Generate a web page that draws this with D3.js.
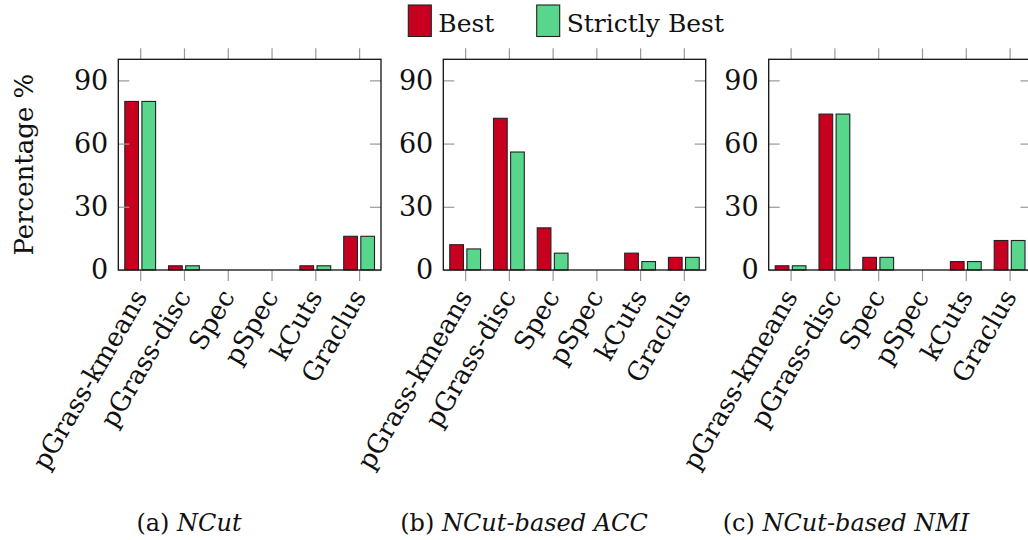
<!DOCTYPE html>
<html>
<head>
<meta charset="utf-8">
<script src="https://cdn.jsdelivr.net/npm/d3@7"></script>
<style>
  html, body { margin: 0; padding: 0; background: #fff; }
  svg { display: block; }
  text { font-family: "DejaVu Serif", serif; fill: #111; }
</style>
</head>
<body>
<svg id="chart" width="1028" height="540"></svg>
<script>
// ---- data ----
const categories = ["pGrass-kmeans", "pGrass-disc", "Spec", "pSpec", "kCuts", "Graclus"];
const seriesNames = ["Best", "Strictly Best"];
const panelTitles = ["NCut", "NCut-based ACC", "NCut-based NMI"];
const panelLetters = ["(a)", "(b)", "(c)"];
const ncutBest = [80, 2, 0, 0, 2, 16];
const ncutStrict = [80, 2, 0, 0, 2, 16];
const accBest = [12, 72, 20, 0, 8, 6];
const accStrict = [10, 56, 8, 0, 4, 6];
const nmiBest = [2, 74, 6, 0, 4, 14];
const nmiStrict = [2, 74, 6, 0, 4, 14];
const yTicks = [0, 30, 60, 90];
const yLabel = "Percentage %";

const panelsData = [
  [ncutBest, ncutStrict],
  [accBest, accStrict],
  [nmiBest, nmiStrict]
];

const colors = ["#c8001f", "#57d68c"];
const svg = d3.select("#chart");

const plotTop = 59.3, plotBottom = 270;
const panelX = [[118.3, 381], [443.3, 705.7], [768.7, 1031.5]];
const captionX = [189, 524, 846];
const FS = 26;

const y = d3.scaleLinear().domain([0, 100]).range([plotBottom, plotTop]);

panelsData.forEach((pd, pi) => {
  const [x0, x1] = panelX[pi];
  const x = d3.scalePoint().domain(categories).range([x0, x1]).padding(0.5);
  const xs = d3.scaleBand().domain(seriesNames).range([-15.4, 15.4]).paddingInner(0.2);
  const g = svg.append("g");

  // bars
  seriesNames.forEach((s, si) => {
    g.selectAll(null).data(categories).enter().append("rect")
      .attr("x", c => x(c) + xs(s))
      .attr("width", xs.bandwidth())
      .attr("y", (c, i) => y(pd[si][i]))
      .attr("height", (c, i) => plotBottom - y(pd[si][i]))
      .attr("fill", colors[si])
      .attr("stroke", "#222")
      .attr("stroke-width", 1.1);
  });

  // ticks
  const tickStyle = sel => {
    sel.select(".domain").remove();
    sel.selectAll(".tick line").attr("stroke", "#999").attr("stroke-width", 1.2);
  };
  g.append("g").attr("transform", `translate(0,${plotBottom})`)
    .call(d3.axisBottom(x).tickSize(11).tickFormat(""))
    .call(tickStyle);
  g.append("g").attr("transform", `translate(0,${plotTop})`)
    .call(d3.axisTop(x).tickSize(11).tickFormat(""))
    .call(tickStyle);
  const ya = g.append("g").attr("transform", `translate(${x0},0)`)
    .call(d3.axisLeft(y).tickValues(yTicks).tickSize(-11).tickPadding(10))
    .call(tickStyle);
  ya.selectAll(".tick text")
    .attr("font-family", "DejaVu Serif, serif")
    .attr("font-size", 27)
    .attr("fill", "#111");
  g.append("g").attr("transform", `translate(${x1},0)`)
    .call(d3.axisRight(y).tickValues(yTicks).tickSize(-11).tickFormat(""))
    .call(tickStyle);

  // frame
  g.append("rect")
    .attr("x", x0).attr("y", plotTop)
    .attr("width", x1 - x0).attr("height", plotBottom - plotTop)
    .attr("fill", "none").attr("stroke", "#111").attr("stroke-width", 1.3);

  // rotated x tick labels
  g.selectAll(null).data(categories).enter().append("text")
    .attr("transform", c => `translate(${x(c)},${plotBottom + 22}) rotate(-60)`)
    .attr("text-anchor", "end")
    .attr("dominant-baseline", "central")
    .attr("font-size", FS)
    .text(c => c);

  // caption
  const cap = svg.append("text")
    .attr("x", captionX[pi]).attr("y", 531)
    .attr("text-anchor", "middle")
    .attr("font-size", 24);
  cap.append("tspan").text(panelLetters[pi] + " ");
  cap.append("tspan").attr("font-style", "italic").text(panelTitles[pi]);
});

// y label
svg.append("text")
  .attr("transform", `translate(33,${(plotTop + plotBottom) / 2}) rotate(-90)`)
  .attr("text-anchor", "middle")
  .attr("font-size", FS)
  .text(yLabel);

// legend
const legX = [408.3, 536.7];
seriesNames.forEach((s, i) => {
  svg.append("rect")
    .attr("x", legX[i]).attr("y", 5)
    .attr("width", 23).attr("height", 31.5)
    .attr("fill", colors[i]).attr("stroke", "#222").attr("stroke-width", 1.1);
  svg.append("text")
    .attr("x", legX[i] + 30).attr("y", 32)
    .attr("font-size", 25)
    .text(s);
});
</script>
</body>
</html>
